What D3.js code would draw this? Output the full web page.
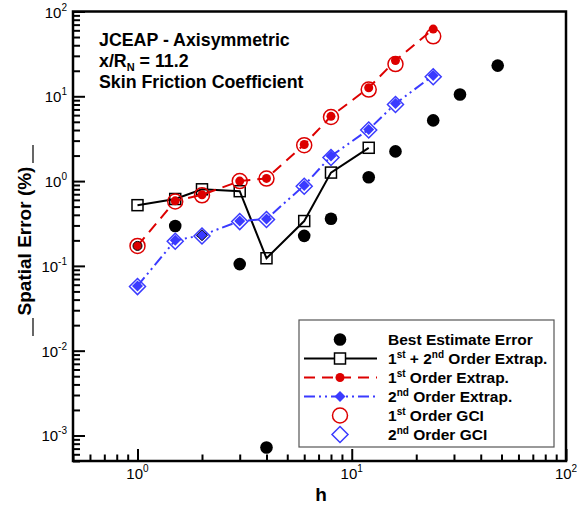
<!DOCTYPE html>
<html>
<head>
<meta charset="utf-8">
<script src="https://cdn.jsdelivr.net/npm/d3@7/dist/d3.min.js"></script>
<style>
    body { margin: 0; background: #fff; }
    text { font-family: Arial, "Liberation Sans", Helvetica, sans-serif; fill: #000; }
</style>
</head>
<body>
<svg id="gfx"></svg>
<script>
// grid spacing h and error (%) for each method
const hExtrap = [1, 1.5, 2, 3, 4, 6, 8, 12, 16, 24];
const firstExtrap = [0.172, 0.585, 0.69, 1.0, 1.075, 2.7, 5.8, 12.6, 26.4, 62];
const secondExtrap = [0.058, 0.2, 0.23, 0.338, 0.357, 0.89, 1.97, 4.06, 8.2, 17.6];
const firstGCI = [0.172, 0.575, 0.68, 1.0, 1.07, 2.65, 5.7, 12, 24, 51];
const secondGCI = [0.057, 0.195, 0.225, 0.333, 0.352, 0.87, 1.9, 4.0, 8.0, 17.0];

const hCombined = [1, 1.5, 2, 3, 4, 6, 8, 12];
const combinedExtrap = [0.52, 0.615, 0.8, 0.76, 0.123, 0.338, 1.26, 2.47];

const hBest = [1.5, 3, 4, 6, 8, 12, 16, 24, 32, 48];
const bestError = [0.295, 0.105, 0.00072, 0.226, 0.36, 1.11, 2.24, 5.2, 10.5, 23];

const xMajor = [0, 1, 2];        // exponents
const yMajor = [-3, -2, -1, 0, 1, 2];

const titleLines = ["JCEAP - Axisymmetric", "x/R", "Skin Friction Coefficient"];

const width = 577, height = 510;
const red = "#dd0000", blue = "#3a3aff";

const svg = d3.select("#gfx").attr("width", width).attr("height", height);

const x = d3.scaleLog().domain([0.5, 100]).range([73, 566]);
const y = d3.scaleLog().domain([5e-4, 100]).range([461, 11.5]);

function minors(lo, hi) {
    const out = [];
    for (let e = Math.floor(Math.log10(lo)); e <= Math.ceil(Math.log10(hi)); ++e) {
        for (let k = 2; k <= 9; ++k) {
            const v = k * Math.pow(10, e);
            if (v >= lo * 0.999 && v <= hi * 1.001) out.push(v);
        }
    }
    return out;
}

// ticks (inward)
const axes = svg.append("g").attr("class", "axes");
axes.append("g").attr("transform", "translate(0,461)")
    .call(d3.axisBottom(x).tickValues(minors(0.5, 100)).tickSize(-6.5).tickFormat(""));
axes.append("g").attr("transform", "translate(0,461)")
    .call(d3.axisBottom(x).tickValues(xMajor.map(e => Math.pow(10, e))).tickSize(-12).tickFormat(""));
axes.append("g").attr("transform", "translate(73,0)")
    .call(d3.axisLeft(y).tickValues(minors(5e-4, 100)).tickSize(-7).tickFormat(""));
axes.append("g").attr("transform", "translate(73,0)")
    .call(d3.axisLeft(y).tickValues(yMajor.map(e => Math.pow(10, e))).tickSize(-12).tickFormat(""));
axes.selectAll(".domain").remove();
axes.selectAll(".tick line").attr("stroke", "#000").attr("stroke-width", 2);

// frame
svg.append("rect")
    .attr("x", 73).attr("y", 11.5)
    .attr("width", 566 - 73).attr("height", 461 - 11.5)
    .attr("fill", "none").attr("stroke", "#000").attr("stroke-width", 2.5);

// tick labels
const xl = svg.append("g").selectAll("text").data(xMajor).enter().append("text")
    .attr("x", d => x(Math.pow(10, d)))
    .attr("y", 479)
    .attr("text-anchor", "middle")
    .style("font-size", "15px");
xl.append("tspan").text("10");
xl.append("tspan").attr("dy", -7).style("font-size", "10px").text(d => d);

const yl = svg.append("g").selectAll("text").data(yMajor).enter().append("text")
    .attr("x", 67)
    .attr("y", d => y(Math.pow(10, d)) + 6)
    .attr("text-anchor", "end")
    .style("font-size", "15px");
yl.append("tspan").text("10");
yl.append("tspan").attr("dy", -7).style("font-size", "10px").text(d => d);

// axis titles
svg.append("text").attr("x", 321).attr("y", 501).attr("text-anchor", "middle")
    .style("font-size", "19px").style("font-weight", "bold").text("h");
svg.append("text")
    .attr("transform", "translate(31,241) rotate(-90)")
    .attr("text-anchor", "middle")
    .style("font-size", "19px").style("font-weight", "bold")
    .text("Spatial Error (%)");
svg.append("line").attr("x1", 33).attr("x2", 33).attr("y1", 145).attr("y2", 163)
    .attr("stroke", "#000").attr("stroke-width", 1.2);
svg.append("line").attr("x1", 33).attr("x2", 33).attr("y1", 318).attr("y2", 336)
    .attr("stroke", "#000").attr("stroke-width", 1.2);

// title block
const tg = svg.append("g").style("font-size", "17.8px").style("font-weight", "bold");
tg.append("text").attr("x", 99).attr("y", 46).text(titleLines[0]);
const t2 = tg.append("text").attr("x", 99).attr("y", 67);
t2.append("tspan").text(titleLines[1]);
t2.append("tspan").attr("dy", 4).style("font-size", "11px").text("N");
t2.append("tspan").attr("dy", -4).text(" = 11.2");
tg.append("text").attr("x", 99).attr("y", 88).text(titleLines[2]);

// data
const plot = svg.append("g").attr("class", "plot");
const pts = (hs, vs) => hs.map((h, i) => ({ h: h, v: vs[i] }));
const line = d3.line().x(d => x(d.h)).y(d => y(d.v));

const diamond = s => `M0,${-s}L${s},0L0,${s}L${-s},0Z`;

// best estimate
plot.selectAll("circle.best").data(pts(hBest, bestError)).enter().append("circle")
    .attr("class", "best").attr("cx", d => x(d.h)).attr("cy", d => y(d.v))
    .attr("r", 6.3).attr("fill", "#000");

// 1st + 2nd order
plot.append("path").datum(pts(hCombined, combinedExtrap)).attr("d", line)
    .attr("fill", "none").attr("stroke", "#000").attr("stroke-width", 2);
plot.selectAll("rect.comb").data(pts(hCombined, combinedExtrap)).enter().append("rect")
    .attr("class", "comb").attr("x", d => x(d.h) - 5.5).attr("y", d => y(d.v) - 5.5)
    .attr("width", 11).attr("height", 11)
    .attr("fill", "none").attr("stroke", "#000").attr("stroke-width", 1.5);

// 1st order extrap
plot.append("path").datum(pts(hExtrap, firstExtrap)).attr("d", line)
    .attr("fill", "none").attr("stroke", red).attr("stroke-width", 2)
    .attr("stroke-dasharray", "11,7");
plot.selectAll("circle.first").data(pts(hExtrap, firstExtrap)).enter().append("circle")
    .attr("class", "first").attr("cx", d => x(d.h)).attr("cy", d => y(d.v))
    .attr("r", 4.5).attr("fill", red)
    .attr("stroke", (d, i) => i === 0 ? "#000" : "none").attr("stroke-width", 1);

// 2nd order extrap
plot.append("path").datum(pts(hExtrap, secondExtrap)).attr("d", line)
    .attr("fill", "none").attr("stroke", blue).attr("stroke-width", 2)
    .attr("stroke-dasharray", "11,4,2,4,2,4");
plot.selectAll("path.second").data(pts(hExtrap, secondExtrap)).enter().append("path")
    .attr("class", "second").attr("d", diamond(5.5))
    .attr("transform", d => `translate(${x(d.h)},${y(d.v)})`)
    .attr("fill", blue)
    .attr("stroke", (d, i) => i === 2 ? "#000" : "none").attr("stroke-width", 1);

// GCI
plot.selectAll("circle.gci1").data(pts(hExtrap, firstGCI)).enter().append("circle")
    .attr("class", "gci1").attr("cx", d => x(d.h)).attr("cy", d => y(d.v))
    .attr("r", 7.5).attr("fill", "none").attr("stroke", red).attr("stroke-width", 1.5);
plot.selectAll("path.gci2").data(pts(hExtrap, secondGCI)).enter().append("path")
    .attr("class", "gci2").attr("d", diamond(8))
    .attr("transform", d => `translate(${x(d.h)},${y(d.v)})`)
    .attr("fill", "none").attr("stroke", blue).attr("stroke-width", 1.5);

// legend
const lg = svg.append("g").attr("class", "legend");
lg.append("rect").attr("x", 299).attr("y", 320).attr("width", 255).attr("height", 127)
    .attr("fill", "#fff").attr("stroke", "#555").attr("stroke-width", 1.2);

const rowY = i => 339.5 + i * 19;
const sx = 340;
const items = [
    { label: [["Best Estimate Error"]] },
    { label: [["1"], ["st", 1], [" + 2"], ["nd", 1], [" Order Extrap."]] },
    { label: [["1"], ["st", 1], [" Order Extrap."]] },
    { label: [["2"], ["nd", 1], [" Order Extrap."]] },
    { label: [["1"], ["st", 1], [" Order GCI"]] },
    { label: [["2"], ["nd", 1], [" Order GCI"]] }
];
items.forEach((it, i) => {
    const t = lg.append("text").attr("x", 388).attr("y", rowY(i) + 5.5)
        .style("font-size", "15.5px").style("font-weight", "bold");
    let up = false;
    it.label.forEach(p => {
        const s = t.append("tspan").text(p[0]);
        if (p[1] && !up) { s.attr("dy", -6).style("font-size", "10px"); up = true; }
        else if (!p[1] && up) { s.attr("dy", 6); up = false; }
    });
});
lg.append("circle").attr("cx", sx).attr("cy", rowY(0)).attr("r", 6.3).attr("fill", "#000");
lg.append("line").attr("x1", 304).attr("x2", 377).attr("y1", rowY(1)).attr("y2", rowY(1))
    .attr("stroke", "#000").attr("stroke-width", 2);
lg.append("rect").attr("x", sx - 5.5).attr("y", rowY(1) - 5.5).attr("width", 11).attr("height", 11)
    .attr("fill", "#fff").attr("stroke", "#000").attr("stroke-width", 1.5);
lg.append("line").attr("x1", 304).attr("x2", 377).attr("y1", rowY(2)).attr("y2", rowY(2))
    .attr("stroke", red).attr("stroke-width", 2).attr("stroke-dasharray", "11,7");
lg.append("circle").attr("cx", sx).attr("cy", rowY(2)).attr("r", 4.5).attr("fill", red);
lg.append("line").attr("x1", 304).attr("x2", 377).attr("y1", rowY(3)).attr("y2", rowY(3))
    .attr("stroke", blue).attr("stroke-width", 2).attr("stroke-dasharray", "11,4,2,4,2,4");
lg.append("path").attr("d", diamond(5.5)).attr("transform", `translate(${sx},${rowY(3)})`).attr("fill", blue);
lg.append("circle").attr("cx", sx).attr("cy", rowY(4)).attr("r", 7.5)
    .attr("fill", "none").attr("stroke", red).attr("stroke-width", 1.5);
lg.append("path").attr("d", diamond(8)).attr("transform", `translate(${sx},${rowY(5)})`)
    .attr("fill", "none").attr("stroke", blue).attr("stroke-width", 1.5);
</script>
</body>
</html>
